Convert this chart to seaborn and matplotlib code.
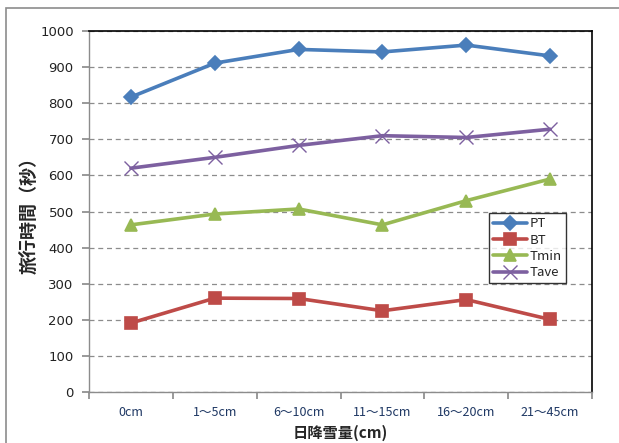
import matplotlib
matplotlib.use("Agg")
import matplotlib.pyplot as plt
import matplotlib.patches as mpatches
import seaborn as sns
import pandas as pd

categories = ["0cm", "1～5cm", "6～10cm", "11～15cm", "16～20cm", "21～45cm"]
pt = [817, 911, 949, 942, 961, 931]
bt = [191, 260, 259, 225, 256, 201]
tmin = [463, 493, 507, 463, 530, 590]
tave = [620, 650, 683, 710, 705, 728]
series_names = ["PT", "BT", "Tmin", "Tave"]
y_ticks = [0, 100, 200, 300, 400, 500, 600, 700, 800, 900, 1000]

rows = []
for name, vals in zip(series_names, [pt, bt, tmin, tave]):
    for i, v in enumerate(vals):
        rows.append({"pos": i, "cat": categories[i], "series": name, "value": v})
df = pd.DataFrame(rows)

sns.set_theme(style="white")
plt.rcParams["font.family"] = ["Noto Sans CJK JP", "DejaVu Sans"]

fig = plt.figure(figsize=(6.19, 4.43), dpi=100)
fig.patch.set_facecolor("white")
# outer chart frame
fig.patches.append(mpatches.Rectangle((6 / 619, -0.1), 1.2, 1 - 8 / 443 + 0.1,
                                      transform=fig.transFigure, fill=False,
                                      edgecolor="#8c8c8c", linewidth=1.2))

ax = fig.add_axes([89 / 619, 51 / 443, 503 / 619, 361 / 443])

palette = {"PT": "#4A7EBB", "BT": "#BE4B48", "Tmin": "#98B954", "Tave": "#7D60A0"}
markers = {"PT": "D", "BT": "s", "Tmin": "^", "Tave": "x"}
msizes = {"PT": 7.5, "BT": 8, "Tmin": 8.5, "Tave": 10}
medge = {"PT": 1.2, "BT": 1.2, "Tmin": 1.2, "Tave": 1.0}

for name in series_names:
    sub = df[df["series"] == name]
    sns.lineplot(data=sub, x="pos", y="value", color=palette[name],
                 marker=markers[name], markersize=msizes[name],
                 markeredgecolor=palette[name], markeredgewidth=medge[name],
                 linewidth=2.6, ax=ax, label=name)

ax.set_xlim(-0.5, 5.5)
ax.set_ylim(0, 1000)
ax.set_yticks(y_ticks)
ax.set_yticklabels([str(t) for t in y_ticks], fontsize=9.5, color="#222222",
                   family=["DejaVu Sans"])
ax.yaxis.grid(True, linestyle=(0, (4, 3)), color="#8c8c8c", linewidth=0.9)
ax.set_axisbelow(True)

# category boundaries as major ticks, labels centred on minor ticks
ax.set_xticks([i - 0.5 for i in range(7)])
ax.set_xticklabels([])
ax.set_xticks(range(6), minor=True)
ax.set_xticklabels(categories, minor=True, fontsize=9, color="#1f3864")
ax.tick_params(axis="x", which="major", length=5, direction="out", color="#8c8c8c",
               bottom=True)
ax.tick_params(axis="x", which="minor", length=0, pad=10)
ax.tick_params(axis="y", length=5, direction="out", color="#8c8c8c", left=True, pad=6)

for side in ["left", "bottom"]:
    ax.spines[side].set_color("#8c8c8c")
    ax.spines[side].set_linewidth(1.0)
for side in ["top", "right"]:
    ax.spines[side].set_color("#000000")
    ax.spines[side].set_linewidth(1.2)

ax.set_xlabel("日降雪量(cm)", fontsize=11, fontweight="bold", labelpad=4)
ax.set_ylabel("旅行時間（秒）", fontsize=13, fontweight="bold", labelpad=1)

leg = ax.legend(loc="upper left", bbox_to_anchor=(0.795, 0.495), fontsize=9.5,
                frameon=True, fancybox=False, edgecolor="black", handlelength=2.6,
                borderpad=0.3, labelspacing=0.25, handletextpad=0.2,
                borderaxespad=0)
leg.get_frame().set_linewidth(1.0)

fig.savefig("out.png", dpi=100, facecolor="white")
